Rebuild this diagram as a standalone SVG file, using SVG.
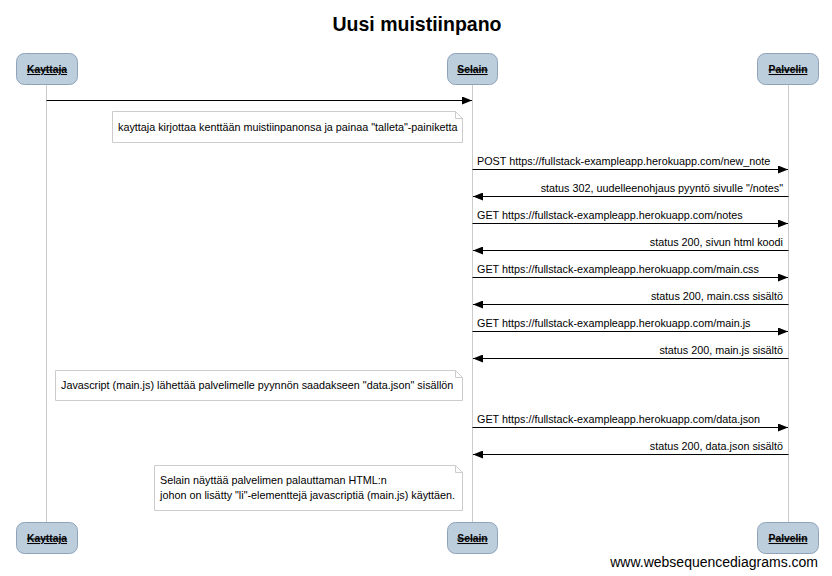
<svg xmlns="http://www.w3.org/2000/svg" width="832" height="576" viewBox="0 0 832 576">
<style>
text{font-family:"Liberation Sans",Arial,sans-serif;fill:#000}
.title{font-size:19.5px;font-weight:bold;text-anchor:middle}
.actor rect{fill:#bccddb;stroke:#8ea3bb;stroke-width:1}
.actor text{font-size:10.3px;font-weight:bold;text-anchor:middle;text-decoration:underline line-through}
.life{stroke:#cccccc;stroke-width:1}
.msg{stroke:#000;stroke-width:1;marker-end:url(#ah)}
.lbl{font-size:10.8px}
.r{text-anchor:end}
.note path{fill:#fff;stroke:#cccccc;stroke-width:1}
.note text{font-size:10.8px}
.wm{font-size:14px;text-anchor:end}
</style>
<defs>
<marker id="ah" markerWidth="10" markerHeight="8" refX="10" refY="4" orient="auto" markerUnits="userSpaceOnUse">
<path d="M0,0 L10,4 L0,8 Z" fill="#000"/>
</marker>
</defs>
<rect width="832" height="576" fill="#fff"/>
<text class="title" x="417" y="31">Uusi muistiinpano</text>
<g id="lifelines">
<line class="life" x1="46.5" y1="85" x2="46.5" y2="522"/>
<line class="life" x1="472.5" y1="85" x2="472.5" y2="522"/>
<line class="life" x1="788.5" y1="85" x2="788.5" y2="522"/>
</g>
<g id="Kayttaja" class="actor">
<rect x="16.5" y="53.5" width="61" height="31" rx="8"/>
<text x="47" y="73">Kayttaja</text>
<rect x="16.5" y="522.5" width="61" height="31" rx="8"/>
<text x="47" y="542">Kayttaja</text>
</g>
<g id="Selain" class="actor">
<rect x="447.5" y="53.5" width="50" height="31" rx="8"/>
<text x="472.5" y="73">Selain</text>
<rect x="447.5" y="522.5" width="50" height="31" rx="8"/>
<text x="472.5" y="542">Selain</text>
</g>
<g id="Palvelin" class="actor">
<rect x="757.5" y="53.5" width="61" height="31" rx="8"/>
<text x="788" y="73">Palvelin</text>
<rect x="757.5" y="522.5" width="61" height="31" rx="8"/>
<text x="788" y="542">Palvelin</text>
</g>
<g id="connectors">
<line class="msg" x1="46.5" y1="100.5" x2="472" y2="100.5"/>
<line class="msg" x1="472.5" y1="169.5" x2="788" y2="169.5"/>
<text class="lbl" x="477" y="165">POST https://fullstack-exampleapp.herokuapp.com/new_note</text>
<line class="msg" x1="788.5" y1="196.5" x2="473" y2="196.5"/>
<text class="lbl r" x="783" y="192">status 302, uudelleenohjaus pyyntö sivulle "/notes"</text>
<line class="msg" x1="472.5" y1="223.5" x2="788" y2="223.5"/>
<text class="lbl" x="477" y="219">GET https://fullstack-exampleapp.herokuapp.com/notes</text>
<line class="msg" x1="788.5" y1="250.5" x2="473" y2="250.5"/>
<text class="lbl r" x="783" y="246">status 200, sivun html koodi</text>
<line class="msg" x1="472.5" y1="277.5" x2="788" y2="277.5"/>
<text class="lbl" x="477" y="273">GET https://fullstack-exampleapp.herokuapp.com/main.css</text>
<line class="msg" x1="788.5" y1="304.5" x2="473" y2="304.5"/>
<text class="lbl r" x="783" y="300">status 200, main.css sisältö</text>
<line class="msg" x1="472.5" y1="331.5" x2="788" y2="331.5"/>
<text class="lbl" x="477" y="327">GET https://fullstack-exampleapp.herokuapp.com/main.js</text>
<line class="msg" x1="788.5" y1="358.5" x2="473" y2="358.5"/>
<text class="lbl r" x="783" y="354">status 200, main.js sisältö</text>
<line class="msg" x1="472.5" y1="427.5" x2="788" y2="427.5"/>
<text class="lbl" x="477" y="423">GET https://fullstack-exampleapp.herokuapp.com/data.json</text>
<line class="msg" x1="788.5" y1="454.5" x2="473" y2="454.5"/>
<text class="lbl r" x="783" y="450">status 200, data.json sisältö</text>
</g>
<g id="note1" class="note">
<path d="M112.5,111.5 H455.5 L462.5,118.5 V142.5 H112.5 Z M455.5,111.5 V118.5 H462.5"/>
<text x="118" y="131">kayttaja kirjottaa kenttään muistiinpanonsa ja painaa "talleta"-painiketta</text>
</g>
<g id="note2" class="note">
<path d="M55.5,370.5 H455.5 L462.5,377.5 V400.5 H55.5 Z M455.5,370.5 V377.5 H462.5"/>
<text x="61" y="389">Javascript (main.js) lähettää palvelimelle pyynnön saadakseen "data.json" sisällön</text>
</g>
<g id="note3" class="note">
<path d="M154.5,465.5 H455.5 L462.5,472.5 V510.5 H154.5 Z M455.5,465.5 V472.5 H462.5"/>
<text x="160" y="484">Selain näyttää palvelimen palauttaman HTML:n</text>
<text x="160" y="499">johon on lisätty "li"-elementtejä javascriptiä (main.js) käyttäen.</text>
</g>
<text class="wm" x="818" y="567">www.websequencediagrams.com</text>
</svg>
